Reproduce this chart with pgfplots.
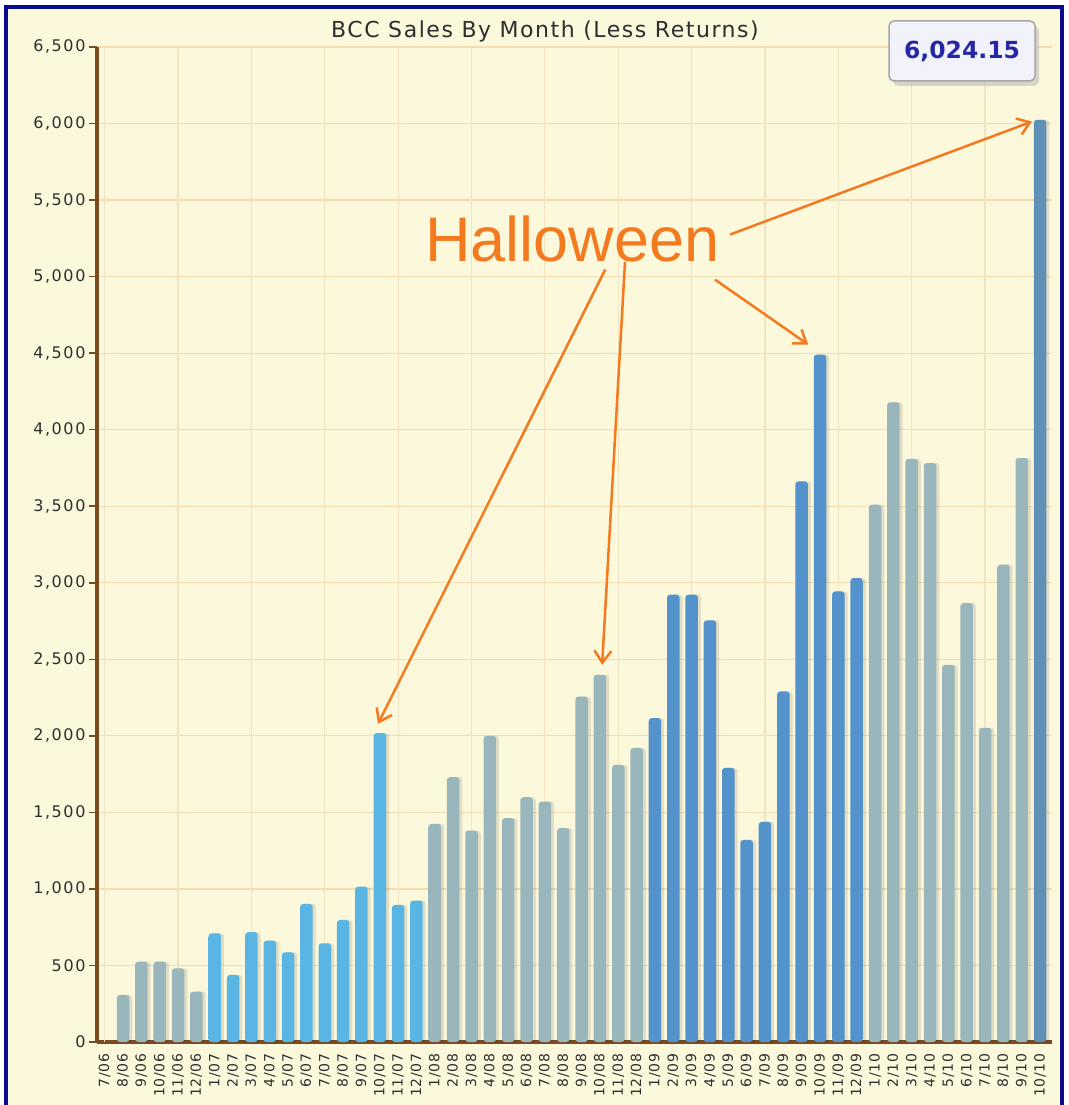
\documentclass[border=0pt]{standalone}
\usepackage{pgfplots}
\pgfplotsset{compat=1.18}
\usepackage{fontspec}
\setmainfont{DejaVu Sans}
\newfontfamily\arialfont{Liberation Sans}
\usetikzlibrary{arrows.meta,shadows,backgrounds}

\definecolor{cream}{HTML}{FBF8DC}
\definecolor{frameblue}{HTML}{0A0A8C}
\definecolor{axisbrown}{HTML}{7A4A22}
\definecolor{hgrid}{HTML}{F3DDB2}
\definecolor{vgrid}{HTML}{F1E4C2}
\definecolor{labelgray}{HTML}{2E2E2E}
\definecolor{halloween}{HTML}{F37A1F}
% bar colours: edge / centre of each cylinder
\definecolor{grayE}{HTML}{98B6BC}
\definecolor{grayC}{HTML}{C2D9DC}
\definecolor{skyE}{HTML}{58B5E4}
\definecolor{skyC}{HTML}{92D9F9}
\definecolor{blueE}{HTML}{5492CC}
\definecolor{blueC}{HTML}{84BBE8}
\definecolor{steelE}{HTML}{5F91B6}
\definecolor{steelC}{HTML}{8AB7D4}
\definecolor{boxfill}{HTML}{F2F2FB}
\definecolor{boxtext}{HTML}{2626A6}

\pgfplotsset{
  salesbar/.style n args={2}{ybar, bar width=12.5pt, draw=none,
    left color=#1, middle color=#2, right color=#1, rounded corners=3pt},
}

\begin{document}
\begin{tikzpicture}[x=1pt,y=1pt]
\begin{axis}[
  anchor=origin, scale only axis,
  width=955pt, height=995pt,
  xmin=-0.42, xmax=51.65, ymin=0, ymax=6500,
  axis x line*=bottom, axis y line*=left,
  axis line style={draw=axisbrown, line width=3.5pt, -},
  axis background/.style={fill=cream},
  clip=false,
  ytick={0,500,...,6500},
  ymajorgrids,
  major grid style={draw=hgrid, line width=1.2pt},
  scaled y ticks=false,
  tick align=outside, major tick length=8pt,
  ytick style={draw=axisbrown, line width=1.5pt},
  y tick label style={font=\fontsize{16}{16}\selectfont\addfontfeatures{LetterSpace=10}, color=labelgray,
    /pgf/number format/.cd, 1000 sep={,}, assume math mode=true},
  xtick={0,...,51},
  xticklabels={7/06,8/06,9/06,10/06,11/06,12/06,
    1/07,2/07,3/07,4/07,5/07,6/07,7/07,8/07,9/07,10/07,11/07,12/07,
    1/08,2/08,3/08,4/08,5/08,6/08,7/08,8/08,9/08,10/08,11/08,12/08,
    1/09,2/09,3/09,4/09,5/09,6/09,7/09,8/09,9/09,10/09,11/09,12/09,
    1/10,2/10,3/10,4/10,5/10,6/10,7/10,8/10,9/10,10/10},
  xtick style={draw=none},
  x tick label style={font=\fontsize{14}{14}\selectfont\addfontfeatures{LetterSpace=5}, rotate=90, anchor=east, color=labelgray},
  extra x ticks={0,4,...,48},
  extra x tick labels={},
  extra x tick style={grid=major, major grid style={draw=vgrid, line width=1.2pt},
    tick style={draw=axisbrown, line width=1.5pt}},
]
\coordinate (O) at (rel axis cs:0,0);

% soft shadow to the right of every bar
\addplot[ybar, bar width=12.5pt, bar shift=3pt, draw=none, fill=black, fill opacity=0.10, rounded corners=3pt]
  coordinates {(1,307) (2,525) (3,525) (4,481) (5,329)
  (6,710) (7,438) (8,717) (9,662) (10,586) (11,902) (12,645) (13,797) (14,1015) (15,2018) (16,895) (17,924)
  (18,1425) (19,1730) (20,1381) (21,2000) (22,1462) (23,1599) (24,1571) (25,1397) (26,2257) (27,2399) (28,1810) (29,1921)
  (30,2116) (31,2922) (32,2922) (33,2754) (34,1791) (35,1320) (36,1438) (37,2290) (38,3662) (39,4490) (40,2943) (41,3031)
  (42,3510) (43,4179) (44,3809) (45,3782) (46,2464) (47,2867) (48,2052) (49,3118) (50,3815) (51,6024.15)};

% 2006
\addplot[salesbar={grayE}{grayC}] coordinates {(1,307) (2,525) (3,525) (4,481) (5,329)};
% 2007
\addplot[salesbar={skyE}{skyC}] coordinates {(6,710) (7,438) (8,717) (9,662) (10,586) (11,902) (12,645) (13,797) (14,1015) (15,2018) (16,895) (17,924)};
% 2008
\addplot[salesbar={grayE}{grayC}] coordinates {(18,1425) (19,1730) (20,1381) (21,2000) (22,1462) (23,1599) (24,1571) (25,1397) (26,2257) (27,2399) (28,1810) (29,1921)};
% 2009
\addplot[salesbar={blueE}{blueC}] coordinates {(30,2116) (31,2922) (32,2922) (33,2754) (34,1791) (35,1320) (36,1438) (37,2290) (38,3662) (39,4490) (40,2943) (41,3031)};
% 2010
\addplot[salesbar={grayE}{grayC}] coordinates {(42,3510) (43,4179) (44,3809) (45,3782) (46,2464) (47,2867) (48,2052) (49,3118) (50,3815)};
% current month
\addplot[salesbar={steelE}{steelC}] coordinates {(51,6024.15)};

% Halloween callouts
\begin{scope}[halloween, line width=2.5pt, -{Straight Barb[length=12pt,width=17pt,line width=2.5pt]}]
  \draw (axis cs:27.29,5046) -- (axis cs:14.90,2078);
  \draw (axis cs:28.37,5098) -- (axis cs:27.12,2464);
  \draw (axis cs:33.28,4980) -- (axis cs:38.36,4556);
  \draw (axis cs:34.10,5275) -- (axis cs:50.56,6013);
\end{scope}
\end{axis}

% page furniture, laid out from the lower-left corner of the page
\pgfresetboundingbox
\begin{scope}[shift={(O)}, xshift=-97pt, yshift=-63pt]
  \path[use as bounding box] (0,0) rectangle (1068,1105);
  \begin{scope}[on background layer]
    \fill[white] (0,0) rectangle (1068,1105);
    \fill[cream] (6,0) rectangle (1062,1098);
  \end{scope}
  \draw[frameblue, line width=4pt] (6,-4) -- (6,1098) -- (1062,1098) -- (1062,-4);

  \node[anchor=base, font=\arialfont\fontsize{63}{63}\selectfont, text=halloween, inner sep=0pt]
    at (572.5,843) {Halloween};

  \node[font=\fontsize{22}{22}\selectfont\addfontfeatures{LetterSpace=7}, text=labelgray] at (545,1074)
    {BCC Sales By Month (Less Returns)};

  \node[draw=gray!70, line width=1.5pt, fill=boxfill, rounded corners=5pt,
    minimum width=146pt, minimum height=60pt,
    drop shadow={shadow xshift=4pt, shadow yshift=-5pt, fill=gray!60},
    font=\bfseries\fontsize{23.5}{23.5}\selectfont, text=boxtext] at (962,1054) {6,024.15};
\end{scope}
\end{tikzpicture}
\end{document}
